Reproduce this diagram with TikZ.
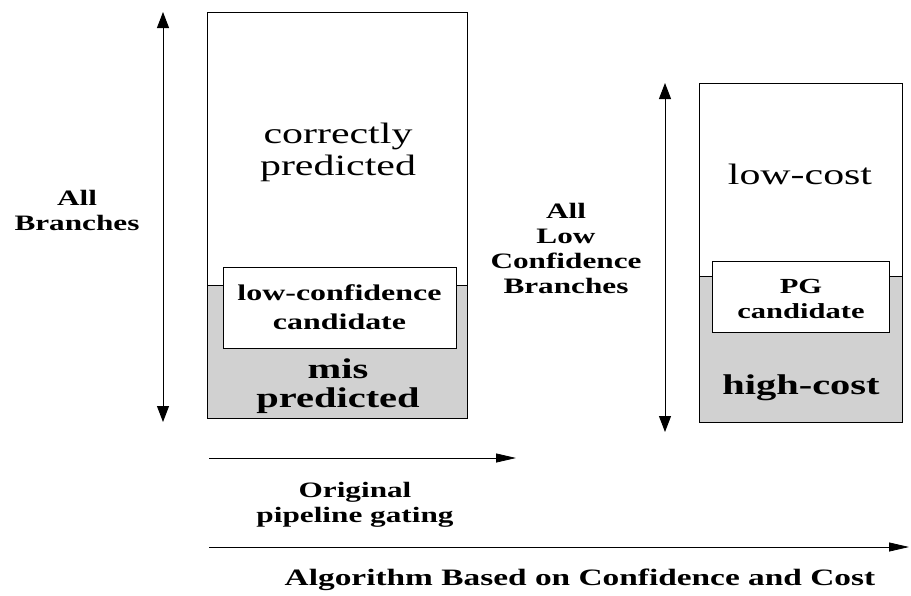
\documentclass[tikz,border=0pt]{standalone}
\usepackage{fontspec}
\setmainfont{Liberation Serif}[FakeStretch=1.42]
\usetikzlibrary{arrows.meta}
\begin{document}
\begin{tikzpicture}[x=1pt,y=-1pt,
  frame/.style={draw=black,line width=0.8pt},
  shade/.style={fill=black!18,draw=black,line width=0.8pt},
  inbox/.style={fill=white,draw=black,line width=0.8pt},
  bigtxt/.style={align=center,font=\fontsize{29.5}{32}\selectfont},
  bigbold/.style={align=center,font=\bfseries\fontsize{28.5}{28.5}\selectfont},
  midbold/.style={align=center,font=\bfseries\fontsize{22.5}{29}\selectfont},
  lbl/.style={align=center,font=\bfseries\fontsize{22}{25}\selectfont},
  vtip/.style={Triangle[length=16pt,width=12pt]},
  htip/.style={Triangle[length=20pt,width=9pt]},
  axis/.style={line width=0.8pt,-{Triangle[length=20pt,width=9pt]}},
  dbl/.style={line width=0.9pt,{Triangle[length=16pt,width=12pt]}-{Triangle[length=16pt,width=12pt]}}]
\useasboundingbox (0,0) rectangle (911,595);

% left column: all branches
\draw[frame] (207,12) rectangle (467,418);
\draw[shade] (207,285) rectangle (467,418);
\node[inbox,minimum width=233pt,minimum height=81pt] (lowconf) at (339.5,307.5) {};
\node[bigtxt] (correct) at (338,152) {correctly\\predicted};
\node[midbold] (lowconftxt) at (lowconf) {low-confidence\\candidate};
\node[bigbold] (mispred) at (338,386) {mis\\predicted};

% right column: low confidence branches
\draw[frame] (699,83) rectangle (902,422);
\draw[shade] (699,276) rectangle (902,422);
\node[inbox,minimum width=177pt,minimum height=71pt] (pg) at (800.5,296.5) {};
\node[bigtxt] (lowcost) at (800,174) {low-cost};
\node[midbold,font=\bfseries\fontsize{21.5}{25}\selectfont] (pgtxt) at (801,299) {PG\\candidate};
\node[bigbold] (highcost) at (801,388) {high-cost};

% vertical extent arrows
\coordinate (la) at (163,12);
\coordinate (lb) at (163,422);
\draw[dbl] (la) -- (lb);
\coordinate (ra) at (665,83);
\coordinate (rb) at (665,432);
\draw[dbl] (ra) -- (rb);

\node[lbl] (allbr) at (77,210) {All\\Branches};
\node[lbl] (alllow) at (566,248) {All\\Low\\Confidence\\Branches};

% horizontal scope arrows
\coordinate (h1a) at (209,458);
\coordinate (h1b) at (516,458);
\draw[axis] (h1a) -- (h1b);
\node[lbl] (orig) at (355,505) {Original\\pipeline gating};

\coordinate (h2a) at (209,547);
\coordinate (h2b) at (909,547);
\draw[axis] (h2a) -- (h2b);
\node[lbl,font=\bfseries\fontsize{23.5}{25}\selectfont] (algo) at (580,580) {Algorithm Based on Confidence and Cost};
\end{tikzpicture}
\end{document}
